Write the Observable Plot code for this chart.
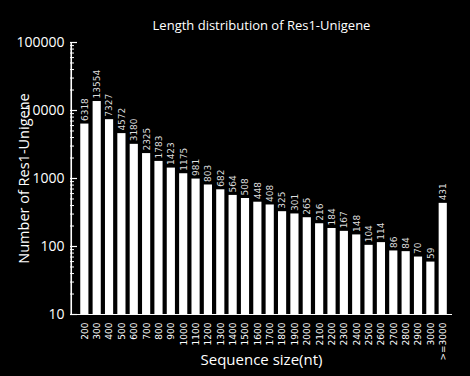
<!DOCTYPE html>
<html>
<head>
<meta charset="utf-8">
<script src="https://cdn.jsdelivr.net/npm/d3@7"></script>
<script src="https://cdn.jsdelivr.net/npm/@observablehq/plot@0.6"></script>
<style>
  html, body { margin: 0; padding: 0; background: #000; }
  #chart { width: 470px; height: 376px; overflow: hidden; }
</style>
</head>
<body>
<div id="chart"></div>
<script>
const categories = ["200","300","400","500","600","700","800","900","1000","1100","1200","1300","1400","1500","1600","1700","1800","1900","2000","2100","2200","2300","2400","2500","2600","2700","2800","2900","3000",">=3000"];
const counts = [6318,13554,7327,4572,3180,2325,1783,1423,1175,981,803,682,564,508,448,408,325,301,265,216,184,167,148,104,114,86,84,70,59,431];
const majorTicks = [10,100,1000,10000,100000];
const minorTicks = [];
for (const m of [10,100,1000,10000]) for (let k = 2; k <= 9; k++) minorTicks.push(m * k);

const titleText = "Length distribution of Res1-Unigene";
const xTitle = "Sequence size(nt)";
const yTitle = "Number of Res1-Unigene";

const data = categories.map((c, i) => ({i, cat: c, value: counts[i]}));

const W = 470, H = 376, mL = 70, mR = 18;
const xMin = -1.16, xMax = 29.75, half = 0.33;
const sans = "'Open Sans', 'DejaVu Sans', sans-serif";

const chart = Plot.plot({
  width: W,
  height: H,
  marginLeft: mL,
  marginRight: mR,
  marginTop: 42,
  marginBottom: 62,
  style: {background: "#000", color: "#fff", fontFamily: "'DejaVu Sans', sans-serif", overflow: "visible"},
  x: {type: "linear", domain: [xMin, xMax]},
  y: {type: "log", domain: [10, 100000]},
  marks: [
    Plot.rectY(data, {x1: d => d.i - half, x2: d => d.i + half, y1: () => 10, y2: "value", fill: "#fff"}),
    Plot.text(data, {x: "i", y: "value", text: d => String(d.value), rotate: -90, textAnchor: "start", dy: -3, fill: "#ddd", fontSize: 9}),
    Plot.ruleY([10], {stroke: "#fff", strokeWidth: 1.2}),
    Plot.axisY({ticks: majorTicks, tickSize: 7, dx: 7, text: null, label: null, stroke: "#fff", strokeWidth: 1.2}),
    Plot.axisY({ticks: minorTicks, tickSize: 4, dx: 4, text: null, label: null, stroke: "#fff", strokeWidth: 1}),
    Plot.axisY({ticks: majorTicks, tickFormat: d => String(d), tickSize: 0, tickPadding: 6, fontSize: 14, fontFamily: sans, label: null}),
    Plot.axisX({ticks: data.map(d => d.i), tickFormat: i => categories[i], tickSize: 0, tickRotate: -90, tickPadding: 8, fontSize: 9, label: null}),
    Plot.text([titleText], {frameAnchor: "top", dy: -22, fontSize: 13, fontFamily: sans, fill: "#fff"}),
    Plot.text([xTitle], {frameAnchor: "bottom", dy: 50, fontSize: 15, fontFamily: sans, fill: "#fff"}),
    Plot.text([yTitle], {frameAnchor: "left", textAnchor: "middle", dx: -46, rotate: -90, fontSize: 14.5, fontFamily: sans, fill: "#fff"}),
    Plot.ruleX([xMin + 0.06], {y1: () => 10, y2: () => 100000, stroke: "#fff", strokeWidth: 1.6, strokeOpacity: 1})
  ]
});
document.getElementById("chart").appendChild(chart);
</script>
</body>
</html>
